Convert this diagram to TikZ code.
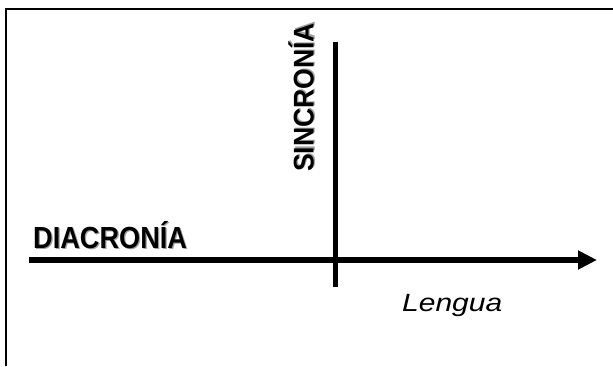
\documentclass[tikz,border=0pt]{standalone}
\usepackage{fontspec}
\setmainfont{Liberation Sans}
\newfontfamily\diafont[FakeStretch=0.89]{Liberation Sans}
\newfontfamily\sinfont[FakeStretch=0.93]{Liberation Sans}
\newfontfamily\lenfont[FakeStretch=1.2]{Liberation Sans}
\definecolor{eje_black}{RGB}{0, 0, 0}
\definecolor{eje_shadow}{RGB}{160, 160, 160}
\usepackage{tikz}
\usetikzlibrary{arrows.meta, positioning}
\newcommand{\sombra}[1]{\rlap{\kern1.3bp\raisebox{-1.3bp}{\textcolor{eje_shadow}{#1}}}#1}

\begin{document}
\begin{tikzpicture}[x=1bp, y=1bp,
        eje/.style={line width=6bp, draw=eje_black},
        titulo/.style={inner sep=0pt, anchor=base west}]
        \useasboundingbox (0,0) rectangle (613,366);
        % Open frame
        \draw[line width=2bp, eje_black] (6,0) -- (6,357) -- (613,357);
        % Axes
        \coordinate (hini) at (29,106);
        \coordinate (hfin) at (597,106);
        \coordinate (vini) at (335.5,79);
        \coordinate (vfin) at (335.5,324);
        \draw[eje, -{Triangle[length=19bp, width=18bp]}] (hini) -- (hfin);
        \draw[eje, line width=5bp] (vini) -- (vfin);
        % Labels
        \node[titulo] (dia) at (33,118)
          {\diafont\bfseries\fontsize{30.5bp}{31bp}\selectfont\sombra{DIACRONÍA}};
        \node[titulo, rotate=90] (sin) at (313.5,194)
          {\sinfont\bfseries\fontsize{28.5bp}{29bp}\selectfont\sombra{SINCRONÍA}};
        \node[titulo] (len) at (402,55)
          {\lenfont\itshape\fontsize{25bp}{26bp}\selectfont Lengua};
      \end{tikzpicture}
\end{document}
